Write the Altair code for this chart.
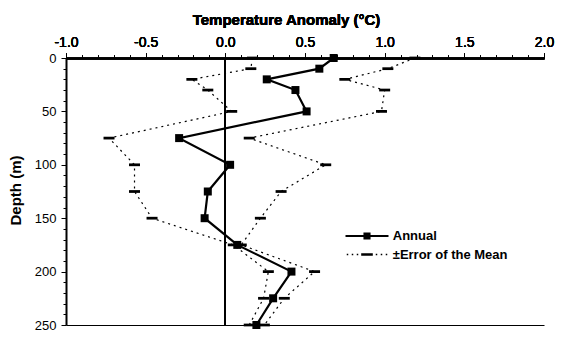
import altair as alt
import pandas as pd

# ---- data ----
depth = [0, 10, 20, 30, 50, 75, 100, 125, 150, 175, 200, 225, 250]
annual = [0.68, 0.59, 0.26, 0.44, 0.51, -0.29, 0.03, -0.11, -0.13, 0.075, 0.415, 0.30, 0.195]
lower = [0.17, 0.16, -0.21, -0.11, 0.04, -0.73, -0.57, -0.57, -0.46, 0.05, 0.27, 0.24, 0.15]
upper = [1.19, 1.02, 0.75, 1.00, 0.98, 0.15, 0.63, 0.35, 0.22, 0.10, 0.56, 0.37, 0.245]
series_names = ["Annual", "±Error of the Mean"]
x_ticks = [round(-1 + 0.1 * i, 1) for i in range(31)]
y_ticks = list(range(0, 251, 10))

FONT = "Liberation Sans"

df = pd.concat([
    pd.DataFrame({"depth": depth, "value": annual, "series": series_names[0], "side": "annual"}),
    pd.DataFrame({"depth": depth, "value": lower, "series": series_names[1], "side": "lower"}),
    pd.DataFrame({"depth": depth, "value": upper, "series": series_names[1], "side": "upper"}),
], ignore_index=True)

xscale = alt.Scale(domain=[-1, 2], nice=False, zero=False)
yscale = alt.Scale(domain=[0, 250], reverse=True, nice=False, zero=False)

x_axis = alt.Axis(
    orient="top", values=x_ticks, title="Temperature Anomaly (°C)",
    labelExpr="abs(datum.value*2 - round(datum.value*2)) < 0.000001 ? ((datum.value < 0 ? '-' : '') + format(abs(datum.value), '.1f')) : ''",
    tickSize={"condition": {"test": "abs(datum.value*2 - round(datum.value*2)) < 0.000001", "value": 5}, "value": 3},
    labelFontSize=14, titleFontSize=15, titleFontWeight="bold", labelPadding=4,
    titleX=220, titleY=-39, titleAlign="center", titleBaseline="middle",
    domainColor="black", domainWidth=2, tickColor="black", tickWidth=1, labelColor="black",
    titleColor="black", grid=False, labelFlush=False, labelOverlap=False,
)
y_axis = alt.Axis(
    orient="left", values=y_ticks, title="Depth (m)",
    labelExpr="datum.value % 50 === 0 ? datum.label : ''",
    tickSize={"condition": {"test": "datum.value % 50 === 0", "value": 5}, "value": 3},
    labelFontSize=13, titleFontSize=15, titleFontWeight="bold", labelPadding=5,
    titleX=-51, titleY=132, titleAngle=270, titleAlign="center", titleBaseline="middle",
    domainColor="black", domainWidth=2, tickColor="black", tickWidth=1, labelColor="black",
    titleColor="black", grid=False, labelFlush=False, labelOverlap=False,
)

X = alt.X("value:Q", scale=xscale, axis=x_axis)
Y = alt.Y("depth:Q", scale=yscale, axis=y_axis)

base = alt.Chart(df)

annual_line = base.transform_filter(alt.datum.side == "annual").mark_line(
    color="black", strokeWidth=2.2
).encode(x=X, y=Y, order="depth:Q")

annual_pts = base.transform_filter(alt.datum.side == "annual").mark_square(
    size=64, color="black", opacity=1
).encode(x=X, y=Y)

err_lines = base.transform_filter(alt.datum.side != "annual").mark_line(
    color="black", strokeWidth=1.2, strokeDash=[2, 4]
).encode(x=X, y=Y, detail="side:N", order="depth:Q")

err_pts = base.transform_filter(alt.datum.side != "annual").mark_point(
    shape="M-1,-0.25H1V0.25H-1Z", size=121, filled=True, color="black", opacity=1
).encode(x=X, y=Y)

# zero reference line, which also carries the plain bottom frame line
zero_rule = alt.Chart(df).mark_rule(color="black", strokeWidth=1).encode(
    x=alt.datum(0, axis=alt.Axis(orient="bottom", labels=False, ticks=False, title=None,
                                 domainColor="black", domainWidth=1, grid=False))
)

# legend glyphs (line + marker) drawn as filled paths
def rect(x0, x1, y0, y1):
    return f"M{x0},{y0}H{x1}V{y1}H{x0}Z"

glyph_annual = rect(-2, 2, -0.093, 0.093) + rect(-0.33, 0.33, -0.33, 0.33)
glyph_err = rect(-0.54, 0.54, -0.12, 0.12)
for c in [0.884, 1.349, 1.814]:
    glyph_err += rect(-c - 0.07, -c + 0.07, -0.06, 0.06) + rect(c - 0.07, c + 0.07, -0.06, 0.06)

legend_layer = base.transform_filter("false").mark_point(
    filled=True, color="black", opacity=1
).encode(
    x=X, y=Y,
    shape=alt.Shape("series:N", scale=alt.Scale(domain=series_names, range=[glyph_annual, glyph_err]),
                    legend=alt.Legend(orient="none", legendX=290, legendY=167, title=None,
                                      symbolSize=462, labelOffset=14.75, labelFontSize=13,
                                      labelFontWeight="bold", labelFont=FONT, labelColor="black",
                                      rowPadding=0.5, padding=0, symbolStrokeWidth=0,
                                      symbolFillColor="black", symbolOpacity=1)),
)

chart = alt.layer(
    zero_rule, err_lines, err_pts, annual_line, annual_pts, legend_layer
).resolve_axis(x="independent").properties(
    width=478, height=267,
    autosize=alt.AutoSizeParams(type="none"),
    padding={"left": 58, "top": 50, "right": 12, "bottom": 10},
).configure(font=FONT).configure_view(stroke=None).configure_axis(
    labelFont=FONT, titleFont=FONT
)

chart.save("out.html", embed_options={"renderer": "svg", "actions": False})
